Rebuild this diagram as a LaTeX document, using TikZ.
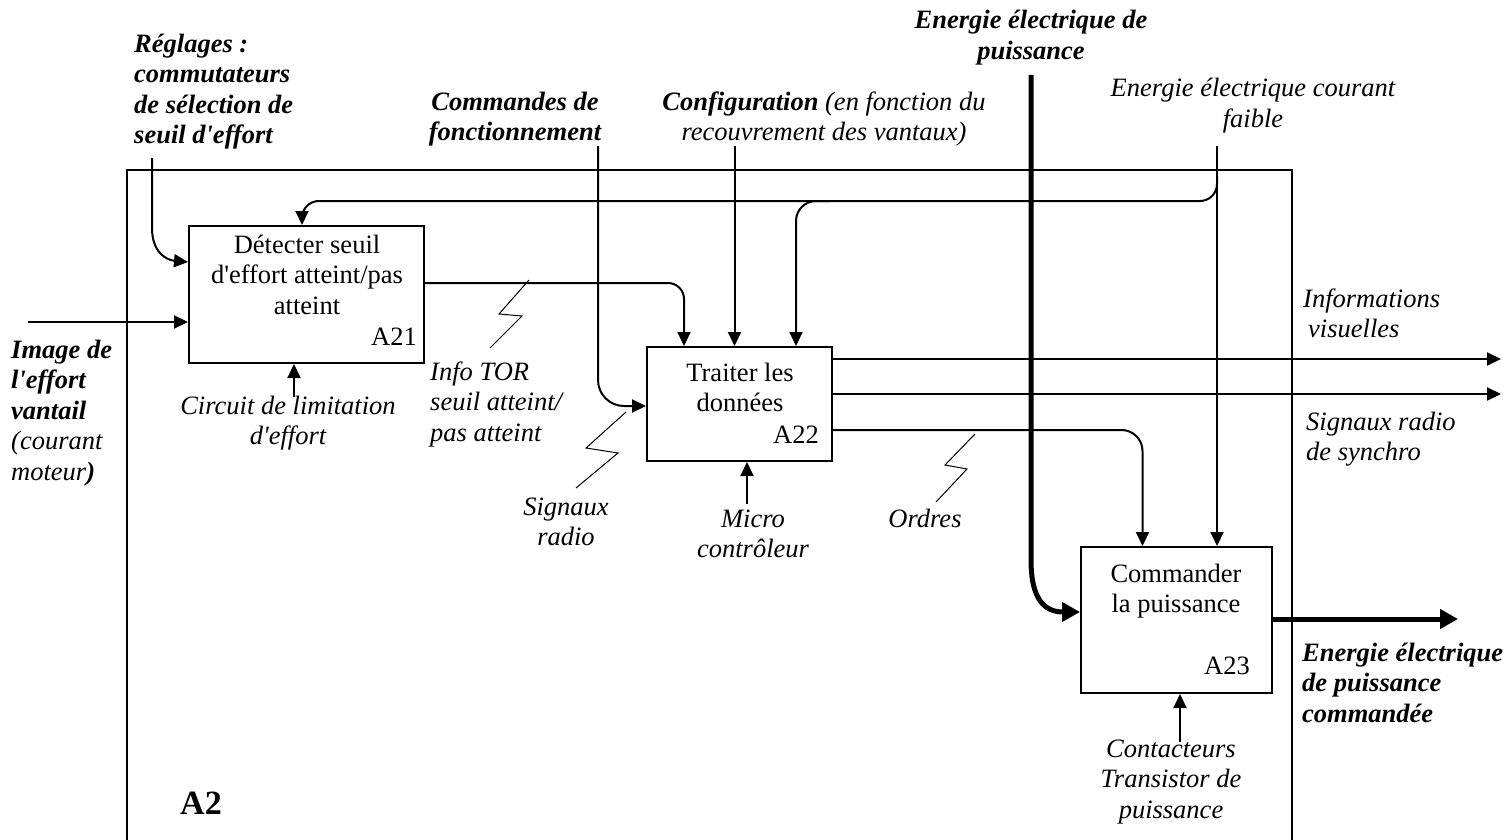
\documentclass[tikz,border=0pt]{standalone}
\usepackage{fontspec}
\setmainfont{Liberation Serif}[Ligatures=TeXOff]
\usetikzlibrary{arrows.meta}
\begin{document}
\begin{tikzpicture}[x=1pt,y=-1pt]
\tikzset{
  arr/.style={line width=2pt, -{Triangle[length=14pt,width=13pt]}},
  tarr/.style={line width=5pt, -{Triangle[length=18pt,width=19pt]}},
  boxnode/.style={draw, line width=2pt, inner sep=0pt},
  bolt/.style={line width=1pt},
  txtrm/.style={inner sep=0pt, font=\fontsize{26.5}{30.5}\selectfont, align=center, anchor=base},
  txtit/.style={txtrm, font=\fontsize{26.5}{30.5}\selectfont\itshape},
  txtbi/.style={txtrm, font=\fontsize{26.5}{30.5}\selectfont\bfseries\itshape},
}
\useasboundingbox (0,0) rectangle (1509,840);
% frame
\draw[line width=2pt] (127,850) -- (127,170) -- (1291.5,170) -- (1291.5,850);
% boxes
\node[boxnode, minimum width=235pt, minimum height=137pt] (A21) at (306.5,294.5) {};
\node[boxnode, minimum width=185pt, minimum height=114pt] (A22) at (739.5,404) {};
\node[boxnode, minimum width=191pt, minimum height=146pt] (A23) at (1176.5,620) {};
% free ends
\coordinate (regS) at (152,158);
\coordinate (imgS) at (28,322);
\coordinate (cmdS) at (598,146);
\coordinate (cfgS) at (734.5,146);
\coordinate (pwrS) at (1031,75);
\coordinate (lowS) at (1217,146);
\coordinate (lowJ) at (1217,176);
\coordinate (lowK) at (830,201);
\coordinate (visE) at (1501,359);
\coordinate (synE) at (1501,394);
\coordinate (outE) at (1458,619);
\coordinate (m1S) at (294,397);
\coordinate (m2S) at (747,504);
\coordinate (m3S) at (1180,742);
% connectors
\draw[arr] (regS) -- (152,228) .. controls (152,252) and (166,260) .. (A21.west |- 0,262);
\draw[arr] (imgS) -- (A21.west |- imgS);
\draw[arr, rounded corners=16pt] (A21.east |- 0,283) -| (A22.north -| 684,0);
\draw[arr, rounded corners=26pt] (cmdS) |- (A22.west |- 0,406);
\draw[arr] (cfgS) -- (A22.north -| cfgS);
\draw[arr] (lowS) -- (A23.north -| lowS);
\draw[arr, rounded corners=17pt] (lowJ) |- (302,201) -- (A21.north -| 302,0);
\draw[arr, rounded corners=20pt] (lowK) -| (A22.north -| 796,0);
\draw[arr] (A22.east |- 0,359) -- (visE);
\draw[arr] (A22.east |- 0,394) -- (synE);
\draw[arr, rounded corners=21pt] (A22.east |- 0,430) -| (A23.north -| 1142.5,0);
\draw[tarr] (pwrS) -- (1031,560) .. controls (1031,600) and (1045,612) .. (A23.west |- 0,612);
\draw[tarr] (A23.east |- 0,619) -- (outE);
\draw[arr] (m1S) -- (A21.south -| m1S);
\draw[arr] (m2S) -- (A22.south -| m2S);
\draw[arr] (m3S) -- (A23.south -| m3S);
% lightning bolts
\draw[bolt] (529,280) -- (499,314) -- (522,316) -- (490,348);
\draw[bolt] (626,412) -- (586,448) -- (618,453) -- (576,488);
\draw[bolt] (975,434) -- (945,465) -- (967,469) -- (936,502);
% texts (anchor base = baseline of the last line)
\node[txtbi, anchor=base west, align=left] (reg) at (134,143.5) {Réglages :\\commutateurs\\de sélection de\\seuil d'effort};
\node[txtbi] (cmd) at (515,140.5) {Commandes de\\fonctionnement};
\node[txtit] (cfg) at (824,140.5) {\textbf{Configuration} (en fonction du\\recouvrement des vantaux)};
\node[txtbi] (pwr) at (1031,59.5) {Energie électrique de\\puissance};
\node[txtit] (low) at (1253,127.5) {Energie électrique courant\\faible};
\node[txtrm] (t21) at (307,314) {Détecter seuil\\d'effort atteint/pas\\atteint};
\node[txtrm, anchor=base east] (l21) at (417,345) {A21};
\node[txtit] (c21) at (288,444.5) {Circuit de limitation\\d'effort};
\node[txtbi, anchor=base west, align=left] (img) at (11,480) {Image de\\l'effort\\vantail\\{\mdseries(courant}\\{\mdseries moteur}\textbf{)}};
\node[txtit, anchor=base west, align=left] (tor) at (430,441) {Info TOR\\seuil atteint/\\pas atteint};
\node[txtrm] (t22) at (740,411.5) {Traiter les\\données};
\node[txtrm, anchor=base east] (l22) at (819,443) {A22};
\node[txtit] (sig) at (566,545.5) {Signaux\\radio};
\node[txtit] (mic) at (753,557.5) {Micro\\contrôleur};
\node[txtit] (ord) at (925,527) {Ordres};
\node[txtit, anchor=base west, align=left] (vis) at (1303,337.5) {Informations\\\hspace{5pt}visuelles};
\node[txtit, anchor=base west, align=left] (syn) at (1306,460.5) {Signaux radio\\de synchro};
\node[txtrm] (t23) at (1176,612.5) {Commander\\la puissance};
\node[txtrm, anchor=base east] (l23) at (1250,674) {A23};
\node[txtit] (c23) at (1171,818) {Contacteurs\\Transistor de\\puissance};
\node[txtbi, anchor=base west, align=left] (out) at (1302,722) {Energie électrique\\de puissance\\commandée};
\node[inner sep=0pt, font=\fontsize{34}{40}\selectfont\bfseries, anchor=base west] (a2) at (180,814) {A2};
\end{tikzpicture}
\end{document}
